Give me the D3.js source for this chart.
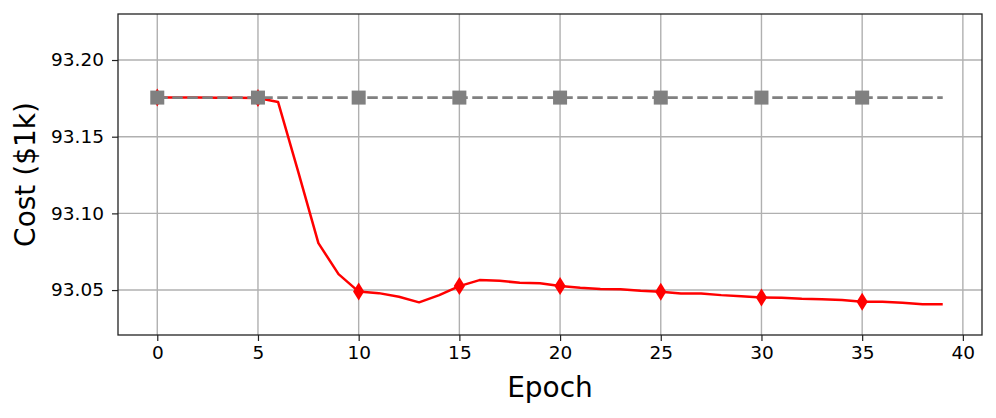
<!DOCTYPE html>
<html>
<head>
<meta charset="utf-8">
<script src="https://cdn.jsdelivr.net/npm/d3@7"></script>
<style>
    body { margin: 0; background: #fff; }
    svg { display: block; font-family: "DejaVu Sans", sans-serif; }
</style>
</head>
<body>
<svg width="996" height="418"></svg>
<script>
"use strict";
// values
var epochs = d3.range(0, 40);
var costTrained = [93.1755, 93.1755, 93.1755, 93.1754, 93.1754, 93.1752, 93.1726, 93.127, 93.0806, 93.0604,
    93.0490, 93.0480, 93.0456, 93.0420, 93.0467, 93.0526, 93.0565, 93.0560, 93.0548, 93.0544,
    93.0526, 93.0515, 93.0507, 93.0505, 93.0495, 93.0489, 93.0478, 93.0478, 93.0467, 93.0460,
    93.0452, 93.0450, 93.0443, 93.0440, 93.0435, 93.0424, 93.0424, 93.0417, 93.0407, 93.0407];
var costBaseline = epochs.map(function () { return 93.1755; });
var xTicks = [0, 5, 10, 15, 20, 25, 30, 35, 40];
var yTicks = [93.05, 93.10, 93.15, 93.20];
var markEvery = 5;

var svg = d3.select("svg"),
    axLeft = 118, axRight = 982, axTop = 14, axBottom = 335;

var x = d3.scaleLinear().domain([-1.95, 40.95]).range([axLeft, axRight]);
var y = d3.scaleLinear().domain([93.0207, 93.2300]).range([axBottom, axTop]);

// grid
var grid = svg.append("g").attr("stroke", "#b0b0b0").attr("stroke-width", 1.4);
grid.selectAll("line.gx").data(xTicks).enter().append("line")
    .attr("x1", function (d) { return x(d); }).attr("x2", function (d) { return x(d); })
    .attr("y1", axTop).attr("y2", axBottom);
grid.selectAll("line.gy").data(yTicks).enter().append("line")
    .attr("y1", function (d) { return y(d); }).attr("y2", function (d) { return y(d); })
    .attr("x1", axLeft).attr("x2", axRight);

var rows = epochs.map(function (e, i) { return { e: e, a: costTrained[i], b: costBaseline[i] }; });
var marked = rows.filter(function (d) { return d.e % markEvery === 0; });

// red series
svg.append("path").datum(rows)
    .attr("fill", "none").attr("stroke", "#ff0000").attr("stroke-width", 2.5)
    .attr("stroke-linejoin", "round")
    .attr("d", d3.line().x(function (d) { return x(d.e); }).y(function (d) { return y(d.a); }));
svg.append("g").selectAll("path").data(marked).enter().append("path")
    .attr("fill", "#ff0000")
    .attr("transform", function (d) { return "translate(" + x(d.e) + "," + y(d.a) + ")"; })
    .attr("d", "M0,-9L5.6,0L0,9L-5.6,0Z");

// grey series
svg.append("path").datum(rows)
    .attr("fill", "none").attr("stroke", "#808080").attr("stroke-width", 2.8)
    .attr("stroke-dasharray", "10.5,4.5")
    .attr("d", d3.line().x(function (d) { return x(d.e); }).y(function (d) { return y(d.b); }));
svg.append("g").selectAll("rect").data(marked).enter().append("rect")
    .attr("fill", "#808080")
    .attr("x", function (d) { return x(d.e) - 7; })
    .attr("y", function (d) { return y(d.b) - 7; })
    .attr("width", 14).attr("height", 14);

// axes
var xAxis = svg.append("g").attr("transform", "translate(0," + axBottom + ")")
    .call(d3.axisBottom(x).tickValues(xTicks).tickFormat(d3.format("d")).tickSizeOuter(0).tickSize(6).tickPadding(5));
var yAxis = svg.append("g").attr("transform", "translate(" + axLeft + ",0)")
    .call(d3.axisLeft(y).tickValues(yTicks).tickFormat(d3.format(".2f")).tickSizeOuter(0).tickSize(6).tickPadding(8));
[xAxis, yAxis].forEach(function (a) {
    a.select(".domain").remove();
    a.selectAll(".tick line").attr("stroke", "#222").attr("stroke-width", 1.2);
    a.selectAll(".tick text").attr("font-size", 18.5).attr("fill", "#000")
        .attr("font-family", "DejaVu Sans, sans-serif");
});

svg.append("rect")
    .attr("x", axLeft).attr("y", axTop).attr("width", axRight - axLeft).attr("height", axBottom - axTop)
    .attr("fill", "none").attr("stroke", "#222").attr("stroke-width", 1.3);

svg.append("text")
    .attr("x", (axLeft + axRight) / 2).attr("y", 397)
    .attr("text-anchor", "middle").attr("font-size", 28)
    .text("Epoch");
svg.append("text")
    .attr("transform", "translate(35," + (axTop + axBottom) / 2 + ") rotate(-90)")
    .attr("text-anchor", "middle").attr("font-size", 28)
    .text("Cost ($1k)");
</script>
</body>
</html>
